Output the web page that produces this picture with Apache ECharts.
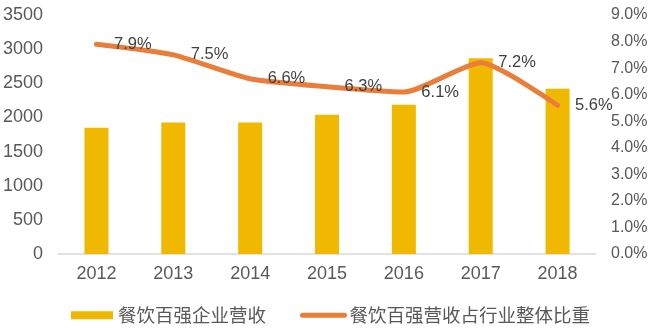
<!DOCTYPE html>
<html>
<head>
<meta charset="utf-8">
<script src="https://cdn.jsdelivr.net/npm/echarts@6/dist/echarts.min.js"></script>
<style>
html,body{margin:0;padding:0;background:#fff;}
#main{width:652px;height:328px;}
</style>
</head>
<body>
<div id="main"></div>
<script>
const years = ['2012','2013','2014','2015','2016','2017','2018'];
const revenue = [1850, 1925, 1925, 2040, 2185, 2865, 2420];
const share = [7.9, 7.5, 6.6, 6.3, 6.1, 7.2, 5.6];
const leftTicks = [0, 500, 1000, 1500, 2000, 2500, 3000, 3500];
const rightTicks = ['0.0%','1.0%','2.0%','3.0%','4.0%','5.0%','6.0%','7.0%','8.0%','9.0%'];
const barName = '餐饮百强企业营收';
const lineName = '餐饮百强营收占行业整体比重';

const chart = echarts.init(document.getElementById('main'), null, {renderer: 'canvas'});
const txt = '#595959';
const orange = '#E97D3A';
chart.setOption({
  animation: false,
  backgroundColor: '#ffffff',
  textStyle: {fontFamily: "'Liberation Sans', Arial, sans-serif"},
  grid: {left: 58, right: 56, top: 15, bottom: 74, containLabel: false},
  legend: {
    left: 66, top: 301,
    itemWidth: 42, itemHeight: 8, itemGap: 34,
    textStyle: {fontSize: 18.5, color: txt, fontFamily: "'Noto Sans CJK SC', sans-serif"},
    data: [
      {name: barName, icon: 'rect'},
      {name: lineName, itemStyle: {opacity: 0}, lineStyle: {width: 5, color: orange, cap: 'round'}}
    ]
  },
  xAxis: {
    type: 'category',
    data: years,
    axisLine: {lineStyle: {color: '#D9D9D9', width: 1.5}},
    axisTick: {show: false},
    axisLabel: {fontSize: 18, color: txt, margin: 11}
  },
  yAxis: [
    {
      type: 'value', min: leftTicks[0], max: leftTicks[leftTicks.length - 1], interval: 500,
      axisLine: {show: false}, axisTick: {show: false},
      splitLine: {show: false},
      axisLabel: {fontSize: 18, color: txt, margin: 15, formatter: v => String(v)}
    },
    {
      type: 'value', min: 0, max: rightTicks.length - 1, interval: 1,
      axisLine: {show: false}, axisTick: {show: false},
      splitLine: {show: false},
      axisLabel: {fontSize: 16, color: txt, margin: 15,
        formatter: v => rightTicks[Math.round(v)]}
    }
  ],
  series: [
    {
      name: barName, type: 'bar', data: revenue, barWidth: 24,
      itemStyle: {color: '#F0B900'}
    },
    {
      name: lineName, type: 'line', yAxisIndex: 1, data: share,
      smooth: 0.2, symbol: 'circle', symbolSize: 1, showSymbol: true,
      lineStyle: {color: orange, width: 5, cap: 'round', join: 'round'},
      itemStyle: {color: orange},
      label: {
        show: true, position: 'right', distance: 17,
        fontSize: 16.5, color: '#404040',
        formatter: p => p.value.toFixed(1) + '%'
      }
    }
  ]
});
</script>
</body>
</html>
